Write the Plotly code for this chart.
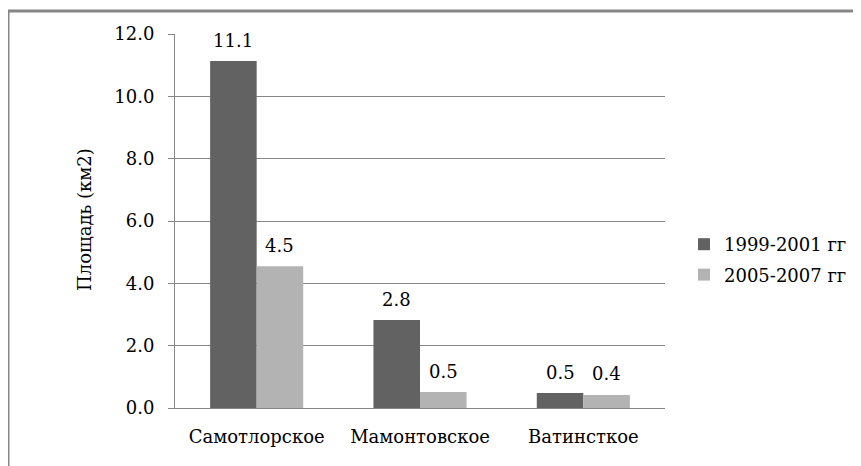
import plotly.graph_objects as go

categories = ["Самотлорское", "Мамонтовское", "Ватинсткое"]
series_names = ["1999-2001 гг", "2005-2007 гг"]
values_1999 = [11.13, 2.82, 0.48]
values_2005 = [4.55, 0.51, 0.42]
labels_1999 = ["11.1", "2.8", "0.5"]
labels_2005 = ["4.5", "0.5", "0.4"]
colors = ["#626262", "#b3b3b3"]

FONT = "DejaVu Serif"
FS = 18
W, H = 861, 466
OFF = 8  # page offset of the figure
L, T = 175 - OFF, 34 - OFF
pw, ph = 490, 374
R = W - L - pw
B = H - T - ph
BARGAP = 0.43
bar_px = pw / len(categories) * (1 - BARGAP) / 2

fig = go.Figure()
annotations = []
for i, (name, vals, labs, col) in enumerate([
    (series_names[0], values_1999, labels_1999, colors[0]),
    (series_names[1], values_2005, labels_2005, colors[1]),
]):
    fig.add_trace(go.Bar(
        x=categories, y=vals, name=name, marker_color=col,
        marker_line_width=0, legendgroup=name,
    ))
    shift = (i - 0.5) * bar_px
    for c, v, t in zip(categories, vals, labs):
        annotations.append(dict(
            x=c, y=v, xref="x", yref="y", text=t, showarrow=False,
            xshift=shift, yshift=21, xanchor="center", yanchor="middle",
            font=dict(family=FONT, size=FS, color="#000000")))

def px(x):
    return (x - OFF - L) / pw

def py(y):
    return (T + ph - (y - OFF)) / ph

annotations.append(dict(text="Площадь (км2)", xref="paper", yref="paper",
                        x=px(84), y=py(220), textangle=-90, showarrow=False,
                        xanchor="center", yanchor="middle",
                        font=dict(family=FONT, size=FS, color="#000000")))

fig.update_layout(
    width=W, height=H,
    margin=dict(l=L, r=R, t=T, b=B, autoexpand=False),
    paper_bgcolor="white", plot_bgcolor="white",
    barmode="group", bargap=BARGAP, bargroupgap=0,
    font=dict(family=FONT, size=FS, color="#000000"),
    showlegend=True,
    legend=dict(x=px(684), y=py(226), xanchor="left", yanchor="top",
                font=dict(family=FONT, size=FS, color="#000000"),
                itemwidth=30, tracegroupgap=4, bgcolor="rgba(0,0,0,0)"),
    xaxis=dict(showgrid=False, showline=True, linecolor="#868686", linewidth=1,
               ticks="", tickfont=dict(family=FONT, size=FS), ticklabelstandoff=12,
               automargin=False),
    yaxis=dict(range=[0, 12], dtick=2, tickformat=".1f", showgrid=True,
               gridcolor="#868686", gridwidth=1, showline=True,
               linecolor="#868686", linewidth=1, ticks="outside", ticklen=6,
               tickcolor="#868686", tickfont=dict(family=FONT, size=FS),
               ticklabelstandoff=10, zeroline=False, automargin=False),
    shapes=[dict(type="rect", xref="paper", yref="paper",
                 x0=px(8), x1=px(880), y0=py(490), y1=py(11),
                 line=dict(color="#868686", width=3), layer="below")],
    annotations=annotations,
)

fig.write_html("out.html")
